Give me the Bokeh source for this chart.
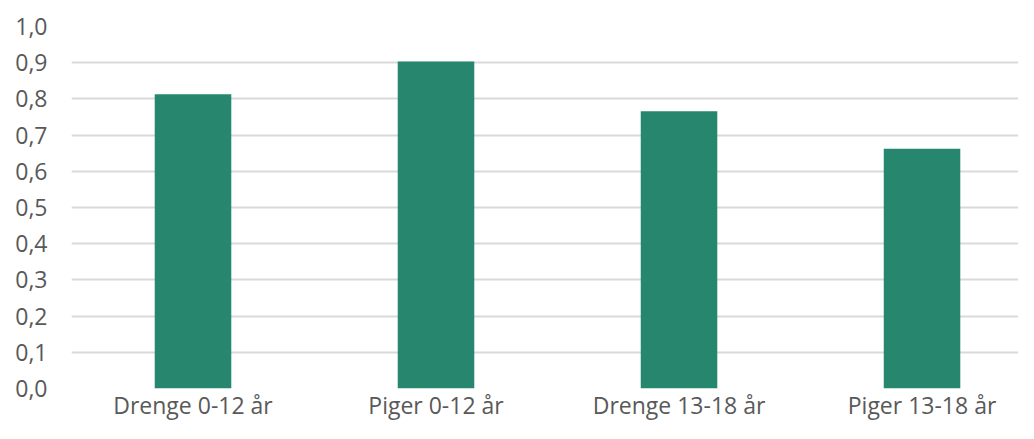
from bokeh.plotting import figure
from bokeh.models import FixedTicker, Range1d, ColumnDataSource
from bokeh.embed import file_html
from bokeh.resources import INLINE

categories = ["Drenge 0-12 år", "Piger 0-12 år", "Drenge 13-18 år", "Piger 13-18 år"]
values = [0.813, 0.903, 0.766, 0.662]
y_ticks = [0.0, 0.1, 0.2, 0.3, 0.4, 0.5, 0.6, 0.7, 0.8, 0.9, 1.0]
y_tick_labels = ["0,0", "0,1", "0,2", "0,3", "0,4", "0,5", "0,6", "0,7", "0,8", "0,9", "1,0"]

xs = [i + 0.5 for i in range(len(categories))]
src = ColumnDataSource(dict(x=xs, top=values, cat=categories))

FONT = "Open Sans"
TXT = "#595959"

p = figure(width=1018, height=423, output_backend="svg", toolbar_location=None,
           x_range=Range1d(0, 3.897), y_range=Range1d(0, 1.0),
           min_border_left=71, min_border_right=0, min_border_top=26, min_border_bottom=32)
p.outline_line_color = None
p.background_fill_color = "white"
p.border_fill_color = "white"

p.vbar(x="x", top="top", bottom=0, width=0.315, source=src,
       fill_color="#27866e", line_color=None)

p.xgrid.grid_line_color = None
p.ygrid.ticker = FixedTicker(ticks=y_ticks)
p.ygrid.grid_line_color = "#d9d9d9"
p.ygrid.grid_line_width = 2
p.ygrid.level = "underlay"

p.yaxis.ticker = FixedTicker(ticks=y_ticks)
p.yaxis.major_label_overrides = {t: l for t, l in zip(y_ticks, y_tick_labels)}
p.xaxis.ticker = FixedTicker(ticks=xs)
p.xaxis.major_label_overrides = {x: c for x, c in zip(xs, categories)}

for ax in (p.xaxis[0], p.yaxis[0]):
    ax.axis_line_color = None
    ax.major_tick_line_color = None
    ax.minor_tick_line_color = None
    ax.major_tick_out = 0
    ax.major_tick_in = 0
    ax.major_label_text_font = FONT
    ax.major_label_text_font_size = "23px"
    ax.major_label_text_color = TXT

p.yaxis.major_label_standoff = 24
p.xaxis.major_label_standoff = 0

open("out.html", "w").write(file_html(p, INLINE))
